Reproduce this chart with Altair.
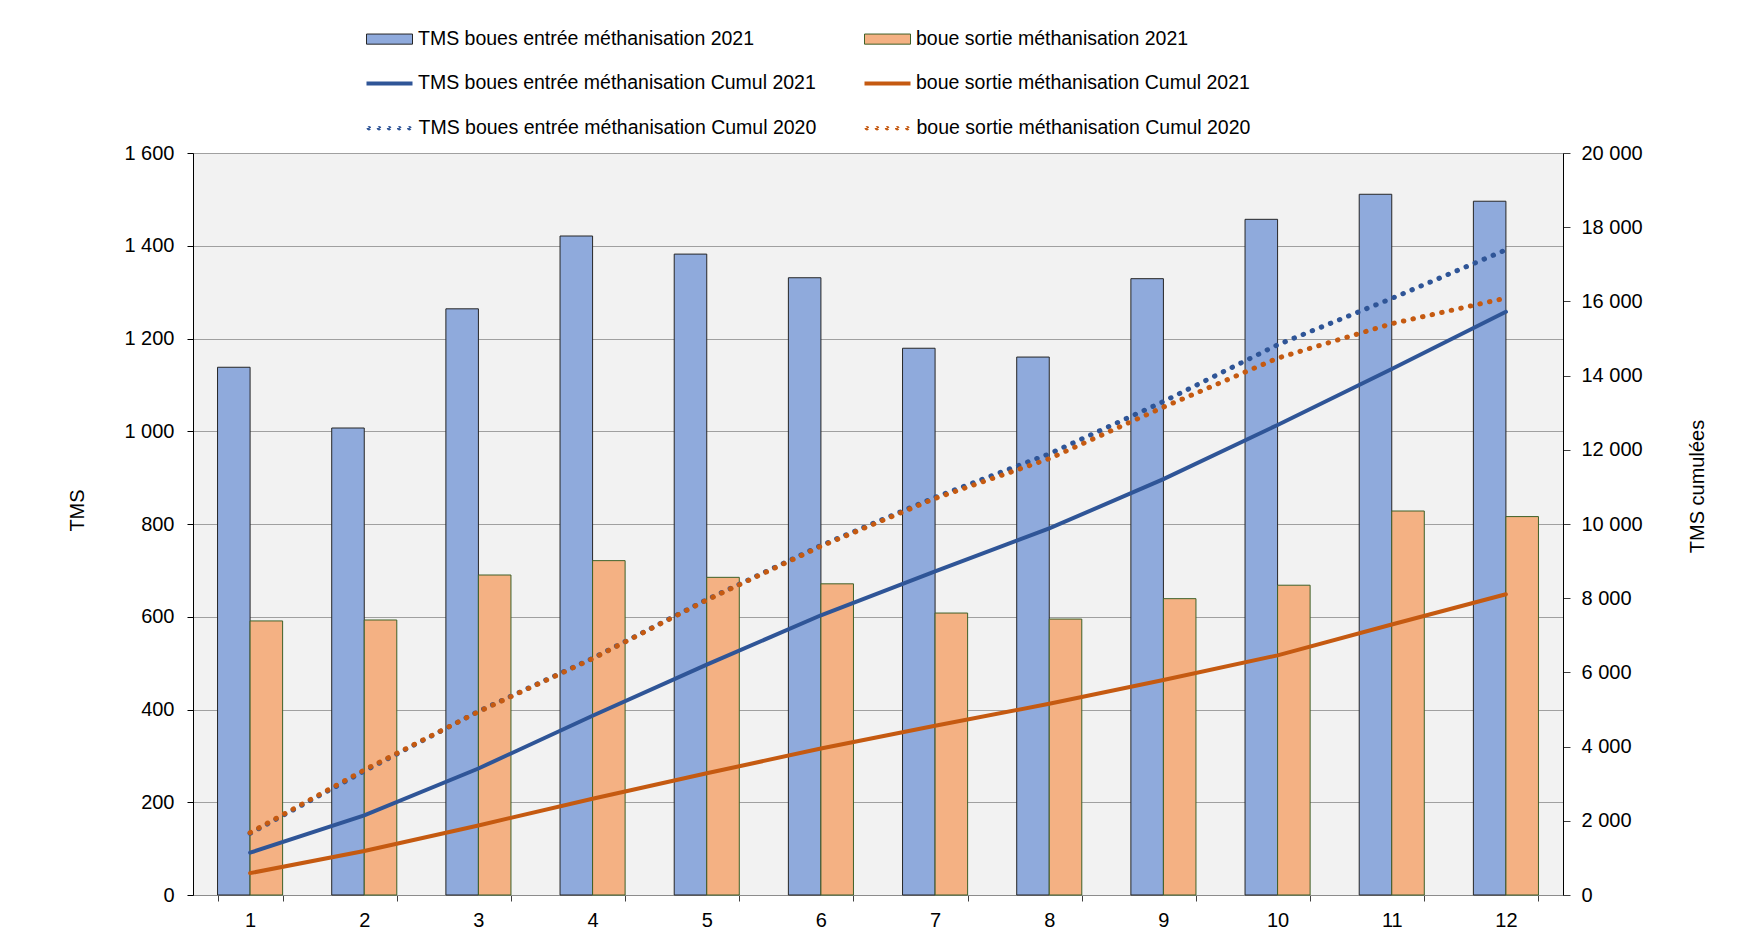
import altair as alt
import pandas as pd

# ---- data ----
mois = [str(m) for m in range(1, 13)]

tms_entree_2021 = [1138, 1007, 1264, 1421, 1382, 1331, 1179, 1160, 1329, 1457, 1511, 1496]
boue_sortie_2021 = [591, 593, 690, 721, 685, 671, 608, 595, 639, 668, 828, 816]

tms_entree_cumul_2021 = [1140, 2145, 3410, 4830, 6210, 7540, 8720, 9880, 11210, 12670, 14180, 15720]
boue_sortie_cumul_2021 = [590, 1185, 1875, 2595, 3280, 3950, 4560, 5155, 5795, 6460, 7290, 8105]

tms_entree_cumul_2020 = [1660, 3340, 4950, 6380, 7960, 9420, 10720, 11890, 13300, 14830, 16080, 17390]
boue_sortie_cumul_2020 = [1680, 3370, 4940, 6370, 7950, 9400, 10690, 11760, 13150, 14470, 15400, 16090]

noms = {
    "bar_b": "TMS boues entrée méthanisation 2021",
    "bar_o": "boue sortie méthanisation 2021",
    "c21_b": "TMS boues entrée méthanisation Cumul 2021",
    "c21_o": "boue sortie méthanisation Cumul 2021",
    "c20_b": "TMS boues entrée méthanisation Cumul 2020",
    "c20_o": "boue sortie méthanisation Cumul 2020",
}

BLUE_BAR = "#8FAADC"
ORANGE_BAR = "#F4B183"
BLUE_LINE = "#2F5597"
ORANGE_LINE = "#C55A11"
FONT = "Liberation Sans"
DOT_DASH = [0.5, 9.3]


def table(values, name, grp):
    return pd.DataFrame({"mois": mois, "valeur": values, "serie": name, "groupe": grp})


label_expr = "replace(format(datum.value, ','), ',', ' ')"

x_enc = alt.X(
    "mois:N", sort=mois, title=None,
    scale=alt.Scale(paddingInner=0.43, paddingOuter=0.215),
    axis=alt.Axis(labelAngle=0, tickBand="extent", domainColor="#8C8C8C", tickColor="#404040",
                  tickSize=6, labelPadding=9, labelFontSize=20, labelColor="#000000",
                  labelFont=FONT, grid=False),
)

y_left = alt.Y(
    "valeur:Q", stack=None,
    scale=alt.Scale(domain=[0, 1600], nice=False, zero=True),
    axis=alt.Axis(values=list(range(0, 1601, 200)), labelExpr=label_expr, title="TMS",
                  domainColor="#000000", tickColor="#000000", tickSize=6, labelPadding=13,
                  labelFontSize=20, labelFont=FONT, labelColor="#000000",
                  grid=True, gridColor="#A0A0A0", gridWidth=1,
                  titleFont=FONT, titleFontSize=20, titleFontWeight="normal", titleColor="#000000",
                  titleAngle=270, titleAlign="center", titleBaseline="middle",
                  titleX=-116, titleY=357),
)

y_right = alt.Y(
    "valeur:Q",
    scale=alt.Scale(domain=[0, 20000], nice=False, zero=True),
    axis=alt.Axis(orient="right", values=list(range(0, 20001, 2000)), labelExpr=label_expr,
                  title="TMS cumulées", domainColor="#000000", tickColor="#404040", tickSize=7,
                  labelPadding=11, labelFontSize=20, labelFont=FONT, labelColor="#000000",
                  grid=False, titleFont=FONT, titleFontSize=20, titleFontWeight="normal",
                  titleColor="#000000", titleAngle=270, titleAlign="center",
                  titleBaseline="middle", titleX=134, titleY=333),
)

x_off = alt.XOffset("groupe:N", scale=alt.Scale(domain=["a", "b"], paddingInner=0, paddingOuter=0))


def legend(x, y, offset=5, **kw):
    return alt.Legend(orient="none", legendX=x, legendY=y, title=None, padding=0,
                      labelFont=FONT, labelFontSize=19.5, labelColor="#000000",
                      labelOffset=offset, labelLimit=700, symbolSize=2116, **kw)


COL1, COL2 = 173, 671
ROW1, ROW2, ROW3 = -137.4, -94.6, -50.6
RECT = "M-1,-0.22H1V0.22H-1Z"
# five tiny closed circles: stroked wide they become round dots
DOTS = "".join(
    f"M{c - 0.01:.3f},0A0.01,0.01 0 1,0 {c + 0.01:.3f},0A0.01,0.01 0 1,0 {c - 0.01:.3f},0Z"
    for c in (-0.9, -0.46, -0.02, 0.42, 0.86)
)


def bar_layer(values, key, grp, fill, stroke, lx, ly):
    return alt.Chart(table(values, noms[key], grp)).mark_bar(
        stroke=stroke, strokeWidth=1
    ).encode(
        x=x_enc, xOffset=x_off, y=y_left,
        color=alt.Color("serie:N", scale=alt.Scale(domain=[noms[key]], range=[fill]),
                        legend=legend(lx, ly, symbolType=RECT, symbolStrokeWidth=1,
                                      symbolStrokeColor=stroke)),
    )


def line_layer(values, key, color, dotted, lx, ly):
    base = alt.Chart(table(values, noms[key], "a"))
    if dotted:
        leg = legend(lx - 1.75, ly, offset=3.25, symbolType=DOTS, symbolStrokeWidth=4.5)
        return base.mark_line(strokeWidth=5, strokeCap="round").encode(
            x=x_enc, y=y_right,
            color=alt.Color("serie:N", scale=alt.Scale(domain=[noms[key]], range=[color]),
                            legend=leg),
            strokeDash=alt.StrokeDash("serie:N", scale=alt.Scale(domain=[noms[key]],
                                                                 range=[DOT_DASH]),
                                      legend=None),
        )
    leg = legend(lx - 1.5, ly, offset=3.5, symbolType="stroke", symbolStrokeWidth=4)
    return base.mark_line(strokeWidth=4, strokeCap="round").encode(
        x=x_enc, y=y_right,
        color=alt.Color("serie:N", scale=alt.Scale(domain=[noms[key]], range=[color]), legend=leg),
    )


bars = alt.layer(
    bar_layer(tms_entree_2021, "bar_b", "a", BLUE_BAR, "#262626", COL1, ROW1),
    bar_layer(boue_sortie_2021, "bar_o", "b", ORANGE_BAR, "#3F6128", COL2, ROW1),
).resolve_scale(color="independent")

lines = alt.layer(
    line_layer(tms_entree_cumul_2020, "c20_b", BLUE_LINE, True, COL1, ROW3),
    line_layer(boue_sortie_cumul_2020, "c20_o", ORANGE_LINE, True, COL2, ROW3),
    line_layer(tms_entree_cumul_2021, "c21_b", BLUE_LINE, False, COL1, ROW2),
    line_layer(boue_sortie_cumul_2021, "c21_o", ORANGE_LINE, False, COL2, ROW2),
).resolve_scale(color="independent", strokeDash="independent")

chart = alt.layer(bars, lines).resolve_scale(
    y="independent", color="independent"
).properties(
    width=1370, height=742,
    autosize=alt.AutoSizeParams(type="none"),
    padding={"left": 185, "top": 145, "right": 189, "bottom": 40},
    background="#FFFFFF",
).configure_view(
    fill="#F2F2F2", stroke="#8C8C8C", strokeWidth=1
)

chart.save("out.html", embed_options={"renderer": "svg", "actions": False})
